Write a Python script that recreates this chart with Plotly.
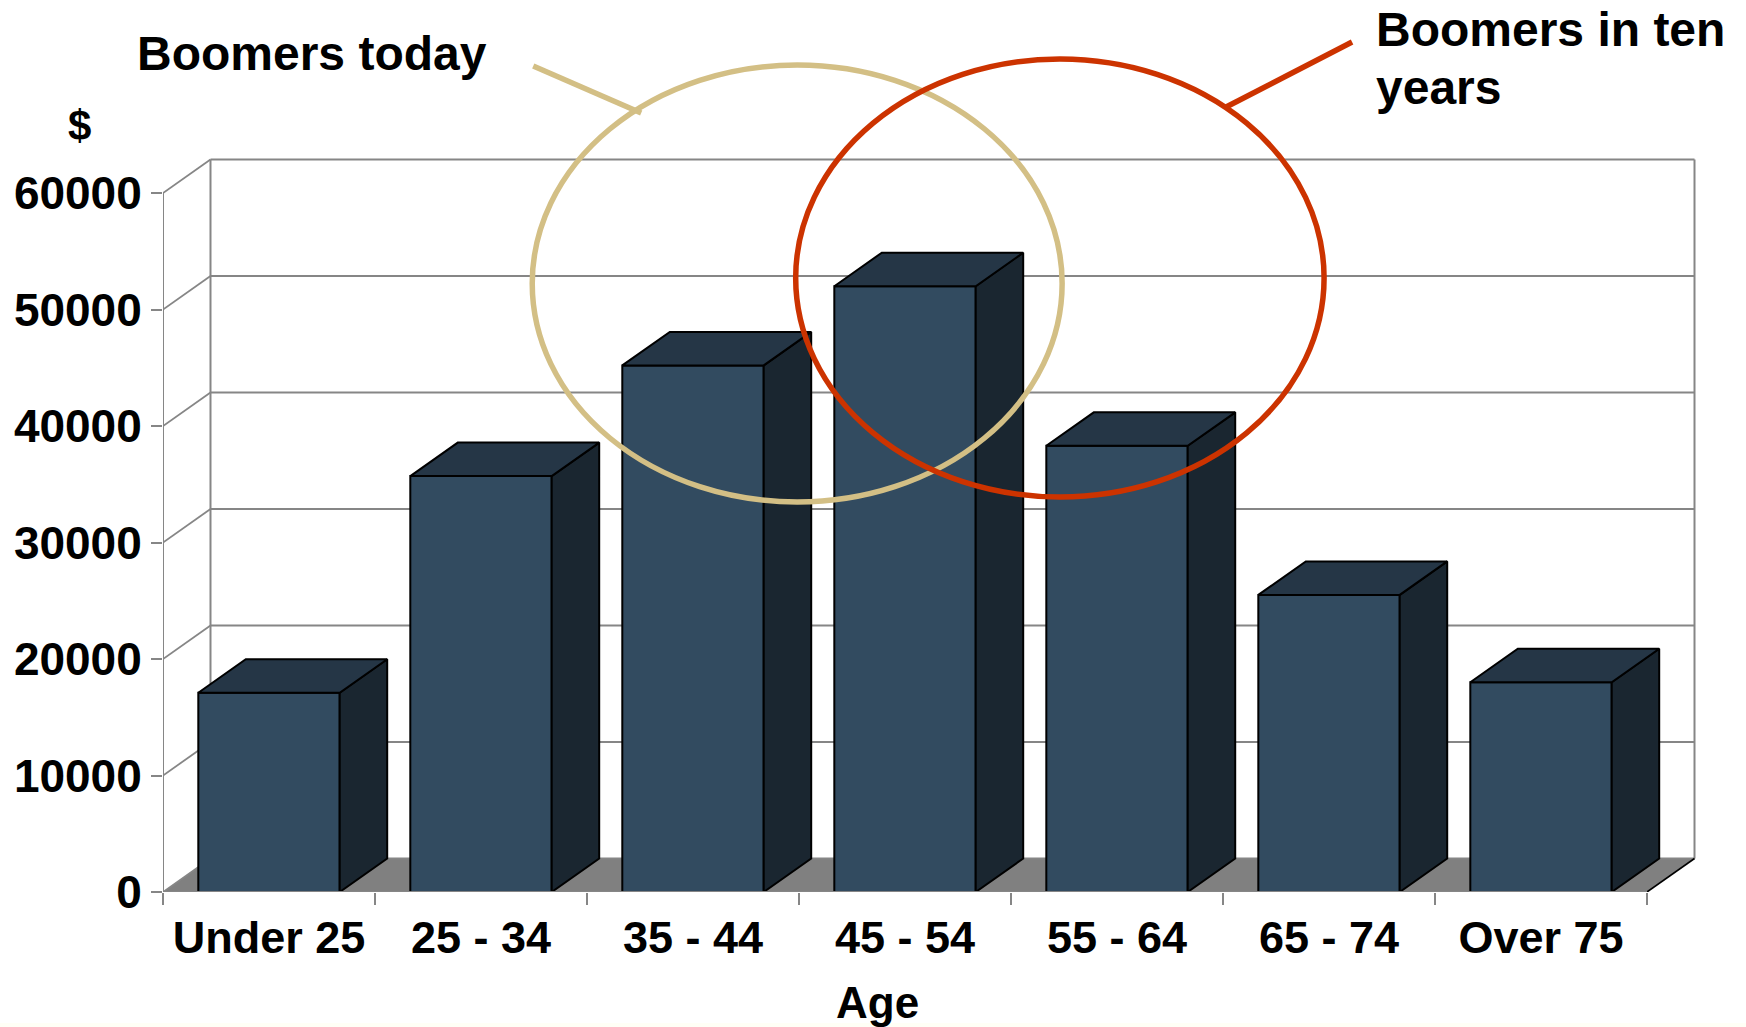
import plotly.graph_objects as go

# ---- data ----
categories = ["Under 25", "25 - 34", "35 - 44", "45 - 54", "55 - 64", "65 - 74", "Over 75"]
spending = [17100, 35700, 45200, 52000, 38300, 25500, 18000]
y_ticks = [0, 10000, 20000, 30000, 40000, 50000, 60000]

# ---- geometry of the pseudo-3D chart ----
W, H = 1746, 1027
X0_PX, X1_PX = 162.7, 1647.0   # front plane left / right
Y0_PX, Y60_PX = 892.0, 193.0   # front plane value 0 / 60000
SLOT = (X1_PX - X0_PX) / len(categories)
PER_UNIT = (Y0_PX - Y60_PX) / 60000
DEPTH_X = 47.5 / SLOT          # depth offset in category units
DEPTH_Y = 33.5 / PER_UNIT      # depth offset in value units
BAR_W = 0.667

FRONT, SIDE, TOP = "#324B60", "#1A2630", "#253646"
GRID, FLOOR = "#868686", "#808080"
TAN, RED = "#D3BF85", "#CC3300"
FONT = "Liberation Sans"


def dx(px):
    return (px - X0_PX) / SLOT - 0.5


def dy(py):
    return (Y0_PX - py) / PER_UNIT


xl, xr = -0.5, len(categories) - 0.5
fig = go.Figure()

# front faces
fig.add_bar(x=list(range(len(categories))), y=spending, width=BAR_W,
            marker=dict(color=FRONT, line=dict(color="black", width=2)),
            hoverinfo="skip", showlegend=False)

# side and top faces
for i, v in enumerate(spending):
    a, b = i - BAR_W / 2, i + BAR_W / 2
    line = dict(color="black", width=2)
    fig.add_scatter(x=[b, b + DEPTH_X, b + DEPTH_X, b, b],
                    y=[0, DEPTH_Y, v + DEPTH_Y, v, 0],
                    mode="lines", fill="toself", fillcolor=SIDE, line=line,
                    hoverinfo="skip", showlegend=False)
    fig.add_scatter(x=[a, a + DEPTH_X, b + DEPTH_X, b, a],
                    y=[v, v + DEPTH_Y, v + DEPTH_Y, v, v],
                    mode="lines", fill="toself", fillcolor=TOP, line=line,
                    hoverinfo="skip", showlegend=False)

# axis lines in front of the bars' feet
fig.add_scatter(x=[xl, xr], y=[0, 0], mode="lines", line=dict(color=GRID, width=2),
                hoverinfo="skip", showlegend=False)

shapes = []
# floor
shapes.append(dict(type="path", layer="below", xref="x", yref="y", fillcolor=FLOOR,
                   line=dict(width=0),
                   path=f"M {xl} 0 L {xr} 0 L {xr + DEPTH_X} {DEPTH_Y} L {xl + DEPTH_X} {DEPTH_Y} Z"))
# walls and gridlines
for v in y_ticks:
    w = 1.8
    shapes.append(dict(type="line", layer="below", xref="x", yref="y", x0=xl, y0=v,
                       x1=xl + DEPTH_X, y1=v + DEPTH_Y, line=dict(color=GRID, width=w)))
    shapes.append(dict(type="line", layer="below", xref="x", yref="y", x0=xl + DEPTH_X,
                       y0=v + DEPTH_Y, x1=xr + DEPTH_X, y1=v + DEPTH_Y,
                       line=dict(color=GRID, width=w)))
top = max(y_ticks)
shapes.append(dict(type="line", layer="below", xref="x", yref="y", x0=xl, y0=0, x1=xl, y1=top,
                   line=dict(color=GRID, width=2)))
shapes.append(dict(type="line", layer="below", xref="x", yref="y", x0=xl + DEPTH_X, y0=DEPTH_Y,
                   x1=xl + DEPTH_X, y1=top + DEPTH_Y, line=dict(color=GRID, width=2)))
shapes.append(dict(type="line", layer="below", xref="x", yref="y", x0=xr + DEPTH_X, y0=DEPTH_Y,
                   x1=xr + DEPTH_X, y1=top + DEPTH_Y, line=dict(color=GRID, width=2)))
shapes.append(dict(type="line", layer="below", xref="x", yref="y", x0=xr, y0=0,
                   x1=xr + DEPTH_X, y1=DEPTH_Y, line=dict(color="black", width=1.6)))

# hand-drawn callouts
LW = 5.5
shapes.append(dict(type="circle", xref="x", yref="y", x0=dx(532), x1=dx(1062), y0=dy(65), y1=dy(502),
                   line=dict(color=TAN, width=LW)))
shapes.append(dict(type="line", xref="x", yref="y", x0=dx(533), y0=dy(66), x1=dx(641), y1=dy(113),
                   line=dict(color=TAN, width=LW)))
shapes.append(dict(type="circle", xref="x", yref="y", x0=dx(795.5), x1=dx(1324), y0=dy(59), y1=dy(497),
                   line=dict(color=RED, width=LW)))
shapes.append(dict(type="line", xref="x", yref="y", x0=dx(1352), y0=dy(42), x1=dx(1226), y1=dy(107),
                   line=dict(color=RED, width=LW)))
# faint tint along the bottom edge of the picture
shapes.append(dict(type="rect", layer="below", xref="paper", yref="paper", x0=-1, x1=1.2,
                   y0=-(H - Y0_PX) / Y0_PX, y1=-(1023 - Y0_PX) / Y0_PX,
                   fillcolor="#FFFFF6", line=dict(width=0)))


def label(text, px, py, size, anchor="left"):
    # free text placed relative to the plot area, which may lie outside the axis ranges
    return dict(text=f"<b>{text}</b>", x=(px - X0_PX) / (W - X0_PX), y=(Y0_PX - py) / Y0_PX,
                xref="paper", yref="paper", xanchor=anchor, yanchor="middle", showarrow=False,
                font=dict(family=FONT, size=size, color="black"))


annotations = [
    label("Boomers today", 135, 53, 48),
    label("Boomers in ten", 1374, 30, 48),
    label("years", 1374, 87, 48),
    label("$", 79, 125, 42, "center"),
    label("Age", 877, 1002, 44, "center"),
]

fig.update_layout(
    width=W, height=H, autosize=False,
    margin=dict(l=X0_PX, r=0, t=0, b=H - Y0_PX, pad=0),
    paper_bgcolor="white", plot_bgcolor="white",
    showlegend=False, barmode="overlay",
    shapes=shapes, annotations=annotations,
    font=dict(family=FONT, size=45, color="black"),
    xaxis=dict(range=[xl, dx(W)], showgrid=False, zeroline=False, showline=False,
               tickmode="array", tickvals=list(range(len(categories))),
               ticktext=[f"<b>{c}</b>" for c in categories], ticks="",
               ticklabelstandoff=15,
               minor=dict(tick0=-0.5, dtick=1, ticks="outside", ticklen=12, tickwidth=2,
                          tickcolor=GRID, showgrid=False)),
    yaxis=dict(range=[0, dy(0)], showgrid=False, zeroline=False, showline=False,
               tickmode="array", tickvals=y_ticks,
               ticktext=[f"<b>{v}</b>" for v in y_ticks],
               tickfont=dict(family=FONT, size=46, color="black"),
               ticks="outside", ticklen=11, tickwidth=2, tickcolor=GRID),
)

fig.write_html("out.html", config=dict(displayModeBar=False),
               post_script="document.body.style.margin='0';document.body.style.overflow='hidden';")
